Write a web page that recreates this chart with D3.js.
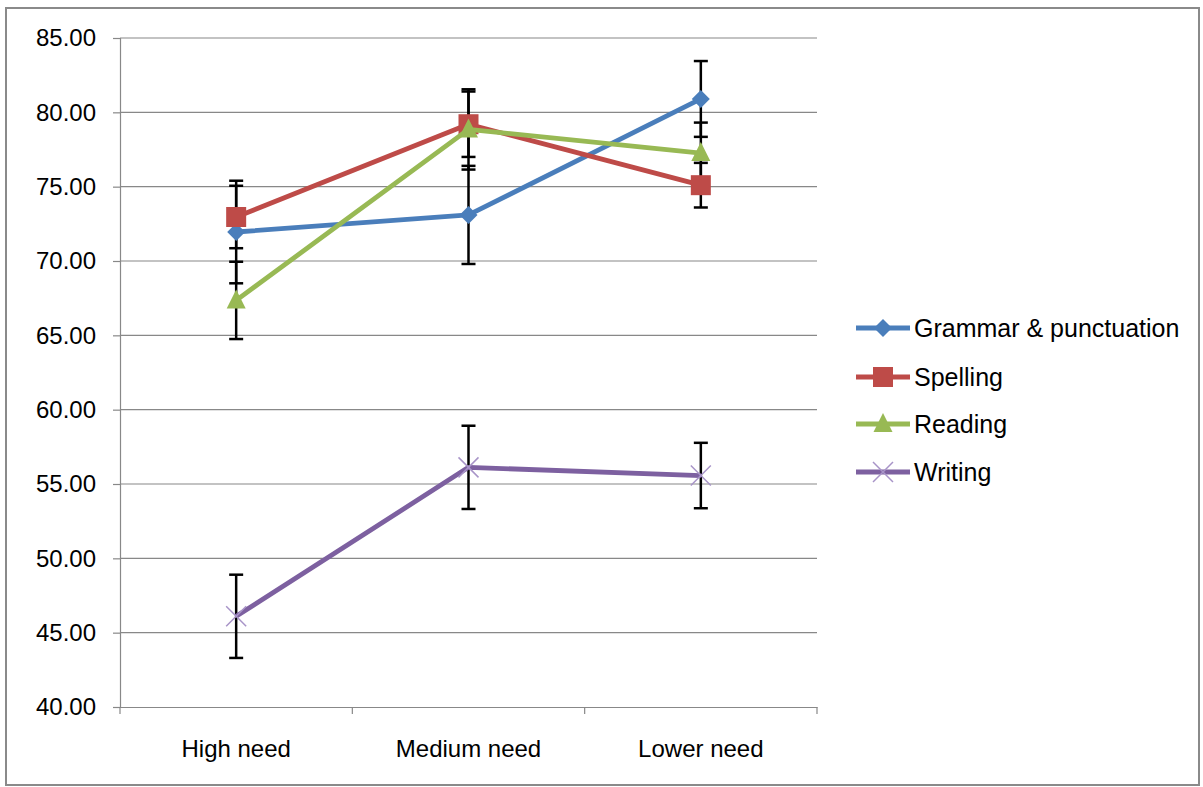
<!DOCTYPE html>
<html><head><meta charset="utf-8">
<script src="https://cdn.jsdelivr.net/npm/d3@7"></script>
<style>body{margin:0;background:#fff;} text{font-family:"Liberation Sans",Arial,sans-serif;fill:#000;}</style>
</head><body>
<svg id="c" width="1203" height="787"></svg>
<script>
const categories = ["High need", "Medium need", "Lower need"];
const seriesNames = ["Grammar & punctuation", "Spelling", "Reading", "Writing"];
const grammar = [71.95, 73.1, 80.9];
const spelling = [72.96, 79.2, 75.1];
const reading = [67.35, 78.85, 77.26];
const writing = [46.1, 56.12, 55.57];
const grammarErr = [3.45, 3.3, 2.55];
const spellingErr = [2.1, 2.2, 1.5];
const readingErr = [2.6, 2.7, 2.05];
const writingErr = [2.8, 2.8, 2.2];
const yTicks = [40, 45, 50, 55, 60, 65, 70, 75, 80, 85];

const colors = ["#4A7EBB", "#BE4B48", "#98B954", "#7D60A0"];
const shapes = ["diamond", "square", "triangle", "x"];
const data = [grammar, spelling, reading, writing];
const errs = [grammarErr, spellingErr, readingErr, writingErr];

const svg = d3.select("#c");
const L = 120, R = 817, T = 38, B = 707;
svg.append("rect").attr("x", 6).attr("y", 8).attr("width", 1193).attr("height", 777)
  .attr("fill", "#fff").attr("stroke", "#8a8a8a").attr("stroke-width", 2);

const x = d3.scaleBand().domain(categories).range([L, R]).paddingInner(0).paddingOuter(0);
const y = d3.scaleLinear().domain([40, 85]).range([B, T]);
const cx = c => x(c) + x.bandwidth() / 2;

// gridlines
svg.append("g").selectAll("line").data(yTicks.filter(t => t > 40)).join("line")
  .attr("x1", L).attr("x2", R).attr("y1", d => y(d)).attr("y2", d => y(d))
  .attr("stroke", "#888").attr("stroke-width", 1.2);

// y axis
const yAxis = svg.append("g").attr("transform", `translate(${L},0)`)
  .call(d3.axisLeft(y).tickValues(yTicks).tickFormat(d3.format(".2f")).tickSize(7).tickPadding(17));
yAxis.select(".domain").attr("stroke", "#888").attr("stroke-width", 1.2);
yAxis.selectAll(".tick line").attr("stroke", "#888").attr("stroke-width", 1.2);
yAxis.selectAll("text").style("font-size", "24px").style("font-family", "Liberation Sans, Arial, sans-serif").attr("fill", "#000");

// x axis
const xAxis = svg.append("g").attr("transform", `translate(0,${B})`)
  .call(d3.axisBottom(x).tickSize(0).tickPadding(33));
xAxis.select(".domain").attr("stroke", "#888").attr("stroke-width", 1.2);
xAxis.selectAll("text").style("font-size", "24px").style("font-family", "Liberation Sans, Arial, sans-serif").attr("fill", "#000");
const bounds = [L, ...categories.map(c => x(c) + x.bandwidth())];
svg.append("g").selectAll("line").data(bounds).join("line")
  .attr("x1", d => d).attr("x2", d => d).attr("y1", B).attr("y2", B + 7)
  .attr("stroke", "#888").attr("stroke-width", 1.2);

// error bars
const eg = svg.append("g");
data.forEach((s, i) => {
  s.forEach((v, j) => {
    const px = cx(categories[j]);
    const e = errs[i][j];
    eg.append("line").attr("x1", px).attr("x2", px).attr("y1", y(v + e)).attr("y2", y(v - e))
      .attr("stroke", "#000").attr("stroke-width", 2.5);
    [v + e, v - e].forEach(t => eg.append("line").attr("x1", px - 7).attr("x2", px + 7)
      .attr("y1", y(t)).attr("y2", y(t)).attr("stroke", "#000").attr("stroke-width", 2.5));
  });
});

function marker(g, shape, color, px, py) {
  if (shape === "diamond") {
    g.append("path").attr("d", `M${px},${py - 9}L${px + 9},${py}L${px},${py + 9}L${px - 9},${py}Z`).attr("fill", color);
  } else if (shape === "square") {
    g.append("rect").attr("x", px - 10).attr("y", py - 10).attr("width", 20).attr("height", 20).attr("fill", color);
  } else if (shape === "triangle") {
    g.append("path").attr("d", `M${px},${py - 11}L${px + 9.5},${py + 8}L${px - 9.5},${py + 8}Z`).attr("fill", color);
  } else {
    g.append("path").attr("d", `M${px - 10},${py - 10}L${px + 10},${py + 10}M${px + 10},${py - 10}L${px - 10},${py + 10}`)
      .attr("stroke", "#A894C8").attr("stroke-width", 1.5).attr("fill", "none");
  }
}

const line = d3.line().x((d, j) => cx(categories[j])).y(d => y(d));
data.forEach((s, i) => {
  const g = svg.append("g");
  g.append("path").datum(s).attr("d", line).attr("fill", "none").attr("stroke", colors[i])
    .attr("stroke-width", 4.8).attr("stroke-linejoin", "round");
  s.forEach((v, j) => marker(g, shapes[i], colors[i], cx(categories[j]), y(v)));
});

// legend
const lg = svg.append("g");
const ly = [328, 377, 424, 472];
seriesNames.forEach((n, i) => {
  lg.append("line").attr("x1", 856).attr("x2", 910).attr("y1", ly[i]).attr("y2", ly[i])
    .attr("stroke", colors[i]).attr("stroke-width", 4.8);
  marker(lg, shapes[i], colors[i], 883, ly[i]);
  lg.append("text").attr("x", 914).attr("y", ly[i]).attr("dy", "0.35em")
    .style("font-size", "25px").text(n);
});
</script>
</body></html>
